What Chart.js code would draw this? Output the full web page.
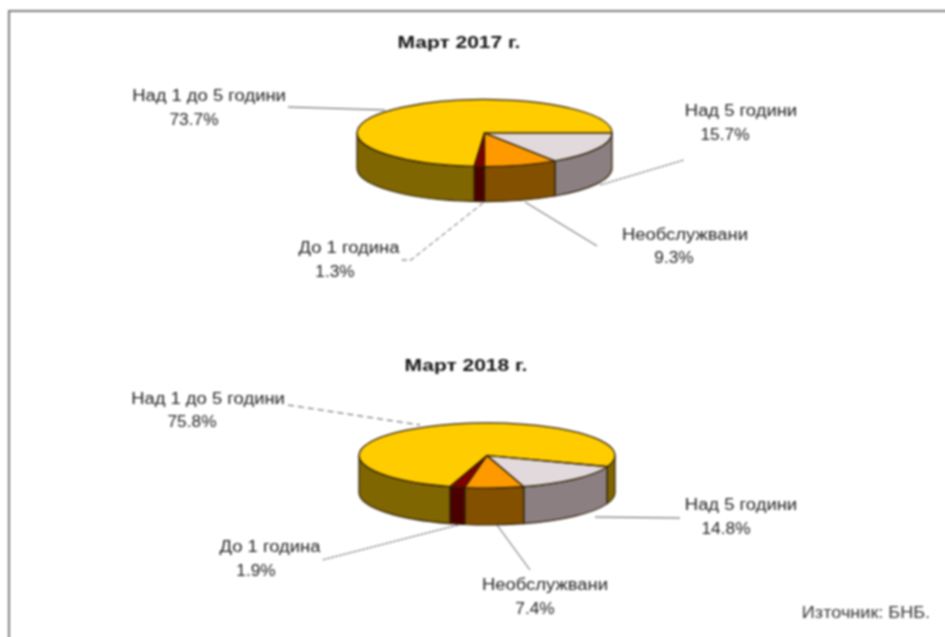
<!DOCTYPE html>
<html>
<head>
<meta charset="utf-8">
<style>
  html, body { margin: 0; padding: 0; background: #fff; overflow: hidden; }
  #page { position: absolute; left: 0; top: 0; width: 945px; height: 637px; filter: blur(0.8px); }
  #frame { position: absolute; left: 8px; top: 10px; width: 960px; height: 660px; border-left: 2px solid #7d7d7d; border-top: 2px solid #7d7d7d; }
  canvas { position: absolute; left: 0; top: 0; }
</style>
</head>
<body>
<div id="page">
  <div id="frame"></div>
  <canvas id="pie2017" width="945" height="637"></canvas>
  <canvas id="pie2018" width="945" height="637"></canvas>
</div>
<script src="https://cdn.jsdelivr.net/npm/chart.js@4/dist/chart.umd.min.js"></script>
<script>
const categories = ["Над 5 години", "Необслужвани", "До 1 година", "Над 1 до 5 години"];
const values2017 = [15.7, 9.3, 1.3, 73.7];
const values2018 = [14.8, 7.4, 1.9, 75.8];
const title2017 = "Март 2017 г.";
const title2018 = "Март 2018 г.";
const sourceNote = "Източник: БНБ.";

const topColors = ["#e2d9dc", "#ff9900", "#800000", "#ffcc00"];
const sideColors = ["#8b7f82", "#835000", "#4a0000", "#806600"];
const edgeColor = "#2e1f04";
const textFont = '16px "Liberation Sans"';
const titleFont = 'bold 16.5px "Liberation Sans"';

function sliceOutline(ctx, arc, ry) {
  ctx.beginPath();
  ctx.moveTo(arc.x, arc.y);
  ctx.ellipse(arc.x, arc.y, arc.outerRadius, ry, 0, arc.startAngle, arc.endAngle);
  ctx.closePath();
}

// the scan of the reference is stretched sideways, so the text is too
function wideText(ctx, text, x, y, stretch) {
  ctx.save();
  ctx.translate(x, y);
  ctx.scale(stretch, 1);
  ctx.fillText(text, 0, 0);
  ctx.restore();
}

// chart.js only knows flat pies, so squash the arcs and add the rim here
const pie3d = {
  id: "pie3d",
  beforeDatasetsDraw(chart, args, opts) {
    const ctx = chart.ctx;
    const arcs = chart.getDatasetMeta(0).data;
    ctx.lineJoin = "round";
    arcs.forEach((arc, i) => {
      const ry = arc.outerRadius * opts.squash;
      [0, 1].forEach((turn) => {
        const from = Math.max(arc.startAngle, turn * 2 * Math.PI);
        const to = Math.min(arc.endAngle, Math.PI + turn * 2 * Math.PI);
        if (from >= to) return;
        ctx.beginPath();
        ctx.ellipse(arc.x, arc.y, arc.outerRadius, ry, 0, from, to);
        ctx.ellipse(arc.x, arc.y + opts.depth, arc.outerRadius, ry, 0, to, from, true);
        ctx.closePath();
        ctx.fillStyle = sideColors[i];
        ctx.fill();
        ctx.strokeStyle = edgeColor;
        ctx.lineWidth = 1.2;
        ctx.stroke();
      });
    });
    const first = arcs[0];
    ctx.save();
    ctx.translate(first.x, first.y);
    ctx.scale(1, opts.squash);
    ctx.translate(-first.x, -first.y);
  },
  afterDatasetsDraw(chart, args, opts) {
    const ctx = chart.ctx;
    ctx.restore();
    chart.getDatasetMeta(0).data.forEach((arc) => {
      sliceOutline(ctx, arc, arc.outerRadius * opts.squash);
      ctx.strokeStyle = edgeColor;
      ctx.lineWidth = 1.2;
      ctx.stroke();
    });
  },
  afterDraw(chart, args, opts) {
    const ctx = chart.ctx;
    const values = chart.data.datasets[0].data;
    ctx.save();
    opts.leaders.forEach((pts) => {
      ctx.beginPath();
      ctx.setLineDash(pts.dash || []);
      ctx.moveTo(pts.line[0], pts.line[1]);
      for (let i = 2; i < pts.line.length; i += 2) ctx.lineTo(pts.line[i], pts.line[i + 1]);
      ctx.strokeStyle = "#555";
      ctx.lineWidth = 1;
      ctx.stroke();
    });
    ctx.setLineDash([]);
    ctx.textAlign = "center";
    ctx.textBaseline = "middle";
    ctx.fillStyle = "#222";
    ctx.font = textFont;
    opts.labels.forEach((pos, i) => {
      wideText(ctx, chart.data.labels[i], pos[0], pos[1] + 1.5, 1.15);
      wideText(ctx, values[i].toFixed(1) + "%", pos[2], pos[3] + 1.5, 1.08);
    });
    ctx.font = titleFont;
    ctx.fillStyle = "#111";
    wideText(ctx, opts.title, opts.titleX, opts.titleY + 1, 1.27);
    if (opts.note) {
      ctx.font = textFont;
      ctx.fillStyle = "#333";
      wideText(ctx, opts.note, 866, 614, 1.13);
    }
    ctx.restore();
  }
};

function makePie(canvasId, values, rotation, padding, pieOpts) {
  return new Chart(document.getElementById(canvasId), {
    type: "pie",
    data: {
      labels: categories,
      datasets: [{
        data: values,
        backgroundColor: topColors,
        borderWidth: 0,
        hoverBorderWidth: 0,
        hoverOffset: 0
      }]
    },
    options: {
      responsive: false,
      animation: false,
      events: [],
      rotation: rotation,
      layout: { padding: padding },
      plugins: {
        legend: { display: false },
        tooltip: { enabled: false },
        pie3d: pieOpts
      }
    },
    plugins: [pie3d]
  });
}

makePie("pie2017", values2017, 90, { left: 357, right: 333, top: 5.5, bottom: 376.5 }, {
  squash: 0.263,
  depth: 35,
  title: title2017,
  titleX: 459,
  titleY: 42,
  labels: [
    [741, 110, 725, 134],
    [685, 234, 674, 257],
    [349, 247, 335, 271],
    [209, 95, 194, 119]
  ],
  leaders: [
    { line: [600, 185, 684, 160], dash: [3, 1] },
    { line: [525, 202, 597, 246] },
    { line: [483, 203, 411, 260, 401, 260], dash: [5, 3] },
    { line: [288, 107, 385, 110] }
  ]
});

makePie("pie2018", values2018, 110, { left: 359, right: 330, top: 327.5, bottom: 53.5 }, {
  squash: 0.254,
  depth: 37,
  title: title2018,
  titleX: 466,
  titleY: 365,
  note: sourceNote,
  labels: [
    [741, 504, 726, 528],
    [545, 584, 535, 608],
    [270, 546, 256, 570],
    [208, 398, 192, 421]
  ],
  leaders: [
    { line: [595, 517, 680, 518] },
    { line: [497, 525, 530, 570] },
    { line: [458, 525, 322, 560], dash: [3, 1] },
    { line: [288, 405, 420, 425], dash: [6, 4] }
  ]
});
</script>
</body>
</html>
